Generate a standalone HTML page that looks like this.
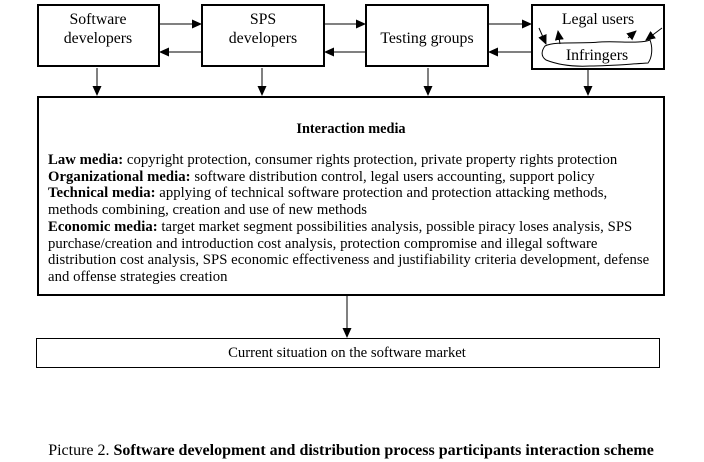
<!DOCTYPE html>
<html><head><style>
body{margin:0;background:#fff;width:704px;height:462px;overflow:hidden;font-family:"Liberation Serif",serif;}
svg{position:absolute;left:0;top:0}
.t{position:absolute;font-size:14.7px;line-height:16.7px;color:#000;white-space:nowrap;letter-spacing:0.05px}
</style></head><body>
<svg width="704" height="462" xmlns="http://www.w3.org/2000/svg">
<defs><marker id="a" markerWidth="10" markerHeight="10" refX="9" refY="5" orient="auto" markerUnits="userSpaceOnUse"><path d="M0,0.5 L10,5 L0,9.5z" fill="#000"/></marker></defs>
<g fill="none" stroke="#000" stroke-width="2">
<rect x="38" y="5" width="121" height="61"/>
<rect x="202" y="5" width="122" height="61"/>
<rect x="366" y="5" width="122" height="61"/>
<rect x="532" y="5" width="132" height="64"/>
<rect x="38" y="97" width="626" height="198"/>
</g>
<rect x="36.5" y="338.5" width="623" height="29" fill="none" stroke="#000" stroke-width="1"/>
<g stroke="#000" stroke-width="1" marker-end="url(#a)">
<line x1="159" y1="24" x2="201" y2="24"/>
<line x1="202" y1="52" x2="160" y2="52"/>
<line x1="324" y1="24" x2="365" y2="24"/>
<line x1="366" y1="52" x2="325" y2="52"/>
<line x1="488" y1="24" x2="531" y2="24"/>
<line x1="532" y1="52" x2="489" y2="52"/>
<line x1="97" y1="68" x2="97" y2="95"/>
<line x1="262" y1="68" x2="262" y2="95"/>
<line x1="428" y1="68" x2="428" y2="95"/>
<line x1="588" y1="70" x2="588" y2="95"/>
<line x1="347" y1="295" x2="347" y2="337"/>
<line x1="539" y1="28" x2="546" y2="44"/>
<line x1="560" y1="44" x2="558" y2="31"/>
<line x1="628" y1="38" x2="636" y2="31"/>
<line x1="662" y1="28" x2="646" y2="40"/>
</g>
<path d="M545,46 C555,41 580,44 600,42 C620,41 640,44 650,40 C653,48 652,58 648,63 C630,64 610,66 590,66 C570,67 556,64 546,60 C540,56 542,50 545,46Z" fill="none" stroke="#000" stroke-width="1"/>
<g font-family="Liberation Serif,serif" font-size="15.8" text-anchor="middle" fill="#000">
<text x="98" y="24">Software</text><text x="98" y="43">developers</text>
<text x="263" y="24">SPS</text><text x="263" y="43">developers</text>
<text x="427" y="43">Testing groups</text>
<text x="598" y="24">Legal users</text>
<text x="597" y="60">Infringers</text>
<text x="347" y="357" font-size="14.7">Current situation on the software market</text>
<text x="351" y="455" font-size="16">Picture 2. <tspan font-weight="bold">Software development and distribution process participants interaction scheme</tspan></text>
<text x="351" y="133" font-size="14.3" font-weight="bold">Interaction media</text>
</g>
</svg>
<div class="t" style="left:48px;top:152px;width:612px">
<b>Law media:</b> copyright protection, consumer rights protection, private property rights protection<br>
<b>Organizational media:</b> software distribution control, legal users accounting, support policy<br>
<b>Technical media:</b> applying of technical software protection and protection attacking methods,<br>
methods combining, creation and use of new methods<br>
<b>Economic media:</b> target market segment possibilities analysis, possible piracy loses analysis, SPS<br>
purchase/creation and introduction cost analysis, protection compromise and illegal software<br>
distribution cost analysis, SPS economic effectiveness and justifiability criteria development, defense<br>
and offense strategies creation
</div>
</body></html>
